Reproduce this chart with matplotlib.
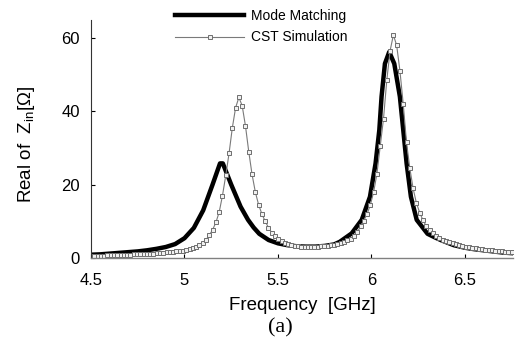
import numpy as np
import matplotlib
matplotlib.use("Agg")
import matplotlib.pyplot as plt

# ---- data ----
mm_freq = [4.50, 4.55, 4.60, 4.65, 4.70, 4.75, 4.80, 4.85, 4.90, 4.95, 5.00,
           5.05, 5.10, 5.15, 5.19, 5.205, 5.25, 5.30, 5.34, 5.37, 5.40, 5.45,
           5.50, 5.55, 5.60, 5.65, 5.70, 5.75, 5.80, 5.83, 5.894, 5.948, 5.992,
           6.022, 6.042, 6.054, 6.072, 6.095, 6.122, 6.152, 6.17, 6.188, 6.211,
           6.242, 6.30, 6.34, 6.375, 6.40, 6.44, 6.50, 6.55, 6.60, 6.65, 6.70, 6.757]
mm_vals = [0.9, 1.0, 1.2, 1.4, 1.6, 1.8, 2.1, 2.5, 3.0, 3.8, 5.4,
           8.2, 13.0, 20.0, 25.8, 25.8, 20.0, 14.0, 10.4, 8.3, 6.6, 4.9,
           4.0, 3.5, 3.2, 3.1, 3.1, 3.3, 3.7, 4.4, 6.7, 10.4, 16.7,
           25.8, 34.9, 44.0, 53.0, 56.2, 53.0, 44.0, 34.9, 25.8, 16.7,
           10.4, 6.6, 5.6, 4.8, 4.3, 3.5, 2.8, 2.4, 2.1, 1.8, 1.5, 1.3]

cst_vals = [0.5, 0.5, 0.6, 0.6, 0.6, 0.7, 0.7, 0.7, 0.8, 0.8,
            0.8, 0.9, 0.9, 1.0, 1.0, 1.0, 1.1, 1.1, 1.2, 1.2,
            1.3, 1.3, 1.4, 1.5, 1.6, 1.7, 1.8, 1.9, 2.0, 2.2,
            2.4, 2.6, 3.0, 3.5, 4.2, 5.0, 6.2, 7.7, 9.7, 12.5,
            17.0, 22.5, 28.5, 35.5, 41.0, 43.8, 41.5, 36.0, 29.0, 22.8,
            18.0, 14.5, 12.0, 10.0, 8.3, 6.9, 5.9, 5.1, 4.6, 4.2,
            3.9, 3.6, 3.4, 3.2, 3.1, 3.0, 3.0, 3.0, 3.0, 3.1,
            3.2, 3.3, 3.4, 3.5, 3.6, 3.7, 4.0, 4.4, 4.8, 5.3,
            6.1, 7.0, 8.6, 10.2, 12.0, 14.5, 18.0, 23.0, 30.5, 38.0,
            48.5, 56.5, 60.8, 58.0, 51.0, 42.0, 31.5, 24.5, 19.0, 15.0,
            12.4, 10.3, 8.7, 7.6, 6.7, 6.0, 5.5, 5.0, 4.7, 4.4,
            4.0, 3.7, 3.5, 3.3, 3.1, 2.9, 2.8, 2.6, 2.5, 2.4,
            2.3, 2.2, 2.1, 2.0, 1.9, 1.8, 1.7, 1.7, 1.7]
cst_freq = np.linspace(4.5, 6.75, len(cst_vals))

x_ticks = [4.5, 5, 5.5, 6, 6.5]
x_ticklabels = ["4.5", "5", "5.5", "6", "6.5"]
y_ticks = [0, 20, 40, 60]

plt.rcParams['font.family'] = ['Liberation Sans', 'DejaVu Sans']
plt.rcParams['mathtext.fontset'] = 'custom'
plt.rcParams['mathtext.rm'] = 'Liberation Sans'
plt.rcParams['mathtext.it'] = 'Liberation Sans'

fig = plt.figure(figsize=(5.15, 3.41), dpi=100)
ax = fig.add_axes([91/515, 1-258/341, (513-91)/515, (258-20)/341])

l1, = ax.plot(mm_freq, mm_vals, color='black', lw=3.2, solid_joinstyle='round')
l2, = ax.plot(cst_freq, cst_vals, color='#7a7a7a', lw=0.8, marker='s', ms=3.4,
              mfc='#f0f0f0', mec='#6e6e6e', mew=0.7)

ax.set_xlim(4.5, 6.757)
ax.set_ylim(0, 64.9)
ax.set_xticks(x_ticks)
ax.set_xticklabels(x_ticklabels)
ax.set_yticks(y_ticks)
ax.tick_params(direction='in', length=3, labelsize=12, width=0.8)
ax.tick_params(axis='x', pad=11)
ax.tick_params(axis='y', pad=8)
for s in ['top', 'right']:
    ax.spines[s].set_visible(False)
ax.spines['bottom'].set_color('#808080')
ax.spines['left'].set_color('#333333')
ax.spines['bottom'].set_linewidth(1.0)
ax.spines['left'].set_linewidth(0.8)

ax.set_xlabel('Frequency  [GHz]', fontsize=13.5, labelpad=6)
ax.set_ylabel(r'Real of  Z$_{\rm in}$[$\Omega$]', fontsize=13.5)
ax.yaxis.set_label_coords((37 - 91) / 422, (258 - 144) / 238)

fig.text(280/515, 1-328/341, '(a)', fontsize=16, family='Liberation Serif',
         ha='center', va='center')

fig.legend([l1, l2], ['Mode Matching', 'CST Simulation'], loc='upper left',
           bbox_to_anchor=(172/515, 1 - 6/341), frameon=False, fontsize=10,
           handlelength=5.0, handletextpad=0.5, labelspacing=0.55,
           borderaxespad=0.0, borderpad=0.2, markerscale=1.0)

fig.savefig('out.png', dpi=100)
